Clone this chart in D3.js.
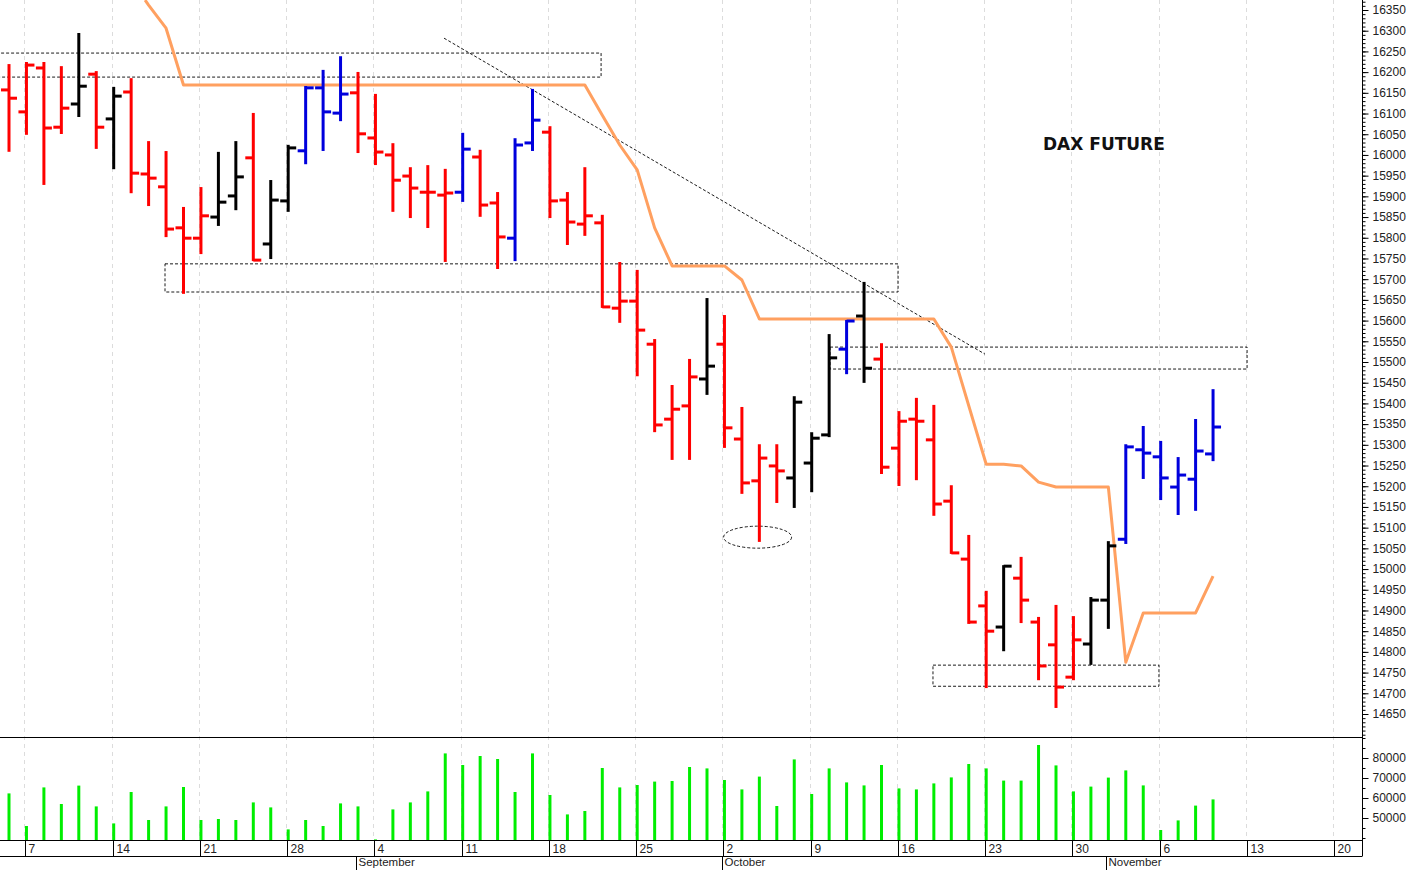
<!DOCTYPE html>
<html><head><meta charset="utf-8">
<script src="https://cdn.jsdelivr.net/npm/d3@7"></script>
<style>body{margin:0;background:#fff}svg{display:block}</style>
</head><body><svg id="c" width="1408" height="870"></svg>
<script>
// ---- data ----
const dates = ["Aug 4","Aug 7","Aug 8","Aug 9","Aug 10","Aug 11","Aug 14","Aug 15","Aug 16","Aug 17","Aug 18","Aug 21","Aug 22","Aug 23","Aug 24","Aug 25","Aug 28","Aug 29","Aug 30","Aug 31","Sep 1","Sep 4","Sep 5","Sep 6","Sep 7","Sep 8","Sep 11","Sep 12","Sep 13","Sep 14","Sep 15","Sep 18","Sep 19","Sep 20","Sep 21","Sep 22","Sep 25","Sep 26","Sep 27","Sep 28","Sep 29","Oct 2","Oct 3","Oct 4","Oct 5","Oct 6","Oct 9","Oct 10","Oct 11","Oct 12","Oct 13","Oct 16","Oct 17","Oct 18","Oct 19","Oct 20","Oct 23","Oct 24","Oct 25","Oct 26","Oct 27","Oct 30","Oct 31","Nov 1","Nov 2","Nov 3","Nov 6","Nov 7","Nov 8","Nov 9"];
const open  = [16157,16104,16210,16067,16123,16195,16087,16152,15954,15923,15824,15799,15850,15901,15993,15785,15889,16010,16162,16101,16150,16041,16000,15949,15910,15903,15910,15995,15884,15799,16029,16055,15891,15833,15836,15630,15647,15543,15362,15394,15459,15543,15314,15213,15249,15220,15256,15324,15531,15611,15507,15292,15362,15312,15164,15024,14911,14860,14978,14872,14817,14739,14819,14925,15072,15288,15271,15198,15217,15278];
const high  = [16217,16222,16222,16212,16292,16200,16162,16183,16031,16007,15872,15920,16005,16031,16099,15937,16022,16164,16203,16236,16198,16145,16026,15968,15973,15964,16051,16010,15908,16038,16157,16067,15908,15968,15853,15739,15720,15553,15442,15505,15652,15611,15389,15299,15299,15415,15328,15565,15599,15691,15543,15379,15411,15394,15200,15080,14945,15007,15027,14882,14911,14884,14930,15065,15299,15343,15307,15268,15360,15432];
const low   = [16010,16051,15930,16053,16094,16017,15968,15910,15879,15804,15667,15763,15831,15869,15746,15751,15865,15980,16012,16084,16007,15978,15865,15850,15826,15744,15889,15853,15727,15746,16012,15850,15785,15807,15633,15597,15468,15333,15266,15266,15423,15295,15184,15068,15162,15150,15188,15321,15473,15452,15232,15203,15217,15131,15039,14870,14715,14804,14872,14734,14667,14734,14771,14858,15063,15220,15169,15133,15143,15263];
const close = [16137,16217,16065,16113,16166,16067,16142,15956,15944,15821,15799,15853,15886,15947,15746,15891,16017,16162,16104,16147,16051,16007,15939,15920,15910,15908,16014,15879,15802,16024,16084,15889,15838,15853,15633,15647,15577,15348,15386,15464,15490,15341,15208,15268,15237,15403,15316,15510,15599,15485,15246,15357,15357,15157,15039,14872,14850,15007,14925,14766,14715,14829,14925,15056,15295,15280,15220,15227,15285,15343];
const barColor = ["r","r","r","r","k","r","k","r","r","r","r","r","k","k","r","k","k","b","b","b","r","r","r","r","r","r","b","r","r","b","b","r","r","r","r","r","r","r","r","r","k","r","r","r","r","k","k","k","b","k","r","r","r","r","r","r","r","k","r","r","r","r","k","k","b","b","b","b","b","b"];
const volume = [62300,46000,65300,57000,66200,55800,47300,63000,49000,55800,65500,49000,49500,49000,57800,55300,44300,49000,46000,57300,55800,39300,54300,57800,63300,82300,76500,81000,79500,63000,82300,61500,51800,53500,75000,65300,66500,68200,68500,75500,74800,69000,64300,70700,56000,79300,62000,74800,67800,66300,76500,64800,64300,67300,70300,77000,74800,68700,68700,86500,76300,63300,65700,70200,73800,66300,44000,48800,56200,59300];
const stopIdx   = [8,9,10,33,34,35,36,37,38,41,42,43,53,54,56,57,58,59,60,63,64,65,68,69];
const stopLevel = [16362,16306,16169,16169,16096,16024,15964,15824,15732,15732,15698,15604,15604,15536,15253,15253,15249,15210,15198,15198,14775,14894,14894,14983];
const weekTickIdx = [1,6,11,16,21,26,31,36,41,46,51,56,61,66,71,76];
const weekLabels  = ["7","14","21","28","4","11","18","25","2","9","16","23","30","6","13","20"];
const monthIdx    = [20,41,63];
const monthLabels = ["September","October","November"];
const priceTicks = d3.range(14650,16351,50);
const volTicks = [50000,60000,70000,80000];
// annotation zones [idx0, idx1, priceLow, priceHigh]
const zoneIdx0 = [-1.6, 8.94, 47.05, 52.95];
const zoneIdx1 = [33.93, 50.95, 70.95, 65.9];
const zoneLow  = [16188, 15669, 15483, 14717];
const zoneHigh = [16246, 15737, 15536, 14768];
const trendIdx = [24.93, 55.93], trendPrice = [16282, 15519];
const ellipseIdx = 42.9, ellipsePrice = 15077;

// ---- scales ----
const svg = d3.select("#c");
const X1 = 1362;
const x = d3.scaleLinear().domain([0, 1]).range([9, 26.45]);
const y = d3.scaleLinear().domain([14650,16350]).range([714,10]);
const yv = d3.scaleLinear().domain([39000,90000]).range([840,738]);
const col = {r:"#ff0000",k:"#000000",b:"#0000dd"};
const font = "'Liberation Sans', Arial, sans-serif";

// grid
weekTickIdx.forEach(i=>{
  const gx = Math.round(x(i))-1.5;
  svg.append("line").attr("x1",gx).attr("x2",gx).attr("y1",0).attr("y2",840)
   .attr("stroke","#dcdcdc").attr("stroke-dasharray","4,4");
});

svg.append("defs").append("clipPath").attr("id","pc").append("rect").attr("x",0).attr("y",0).attr("width",X1).attr("height",737);

// zones
const ann = svg.append("g").attr("clip-path","url(#pc)");
zoneIdx0.forEach((a,k)=>{
  ann.append("rect").attr("x",x(a)).attr("y",y(zoneHigh[k]))
    .attr("width",x(zoneIdx1[k])-x(a)).attr("height",y(zoneLow[k])-y(zoneHigh[k]))
    .attr("fill","none").attr("stroke","#000").attr("stroke-width",0.9).attr("stroke-dasharray","3,2");
});
ann.append("line").attr("x1",x(trendIdx[0])).attr("y1",y(trendPrice[0])).attr("x2",x(trendIdx[1])).attr("y2",y(trendPrice[1]))
  .attr("stroke","#000").attr("stroke-width",0.9).attr("stroke-dasharray","3,2");
ann.append("ellipse").attr("cx",x(ellipseIdx)).attr("cy",y(ellipsePrice)).attr("rx",34).attr("ry",11)
  .attr("fill","none").attr("stroke","#000").attr("stroke-width",0.9).attr("stroke-dasharray","3,2");

// stop line
const stopPts = stopIdx.map((i,k)=>[x(i),y(stopLevel[k])]);
ann.append("path").attr("d",d3.line()([[x(7.8),y(16374)],...stopPts])).attr("fill","none")
  .attr("stroke","#ffa060").attr("stroke-width",3).attr("stroke-linejoin","round");

// OHLC bars
const bars = svg.append("g").attr("clip-path","url(#pc)");
dates.forEach((d,i)=>{
  const cx = x(i), c = col[barColor[i]];
  const bg = bars.append("g").attr("stroke",c).attr("stroke-width",3);
  bg.append("line").attr("x1",cx).attr("x2",cx).attr("y1",y(high[i])-1).attr("y2",y(low[i])+1);
  bg.append("line").attr("x1",cx-8).attr("x2",cx).attr("y1",y(open[i])).attr("y2",y(open[i]));
  bg.append("line").attr("x1",cx).attr("x2",cx+8).attr("y1",y(close[i])).attr("y2",y(close[i]));
});

// volume
dates.forEach((d,i)=>{
  svg.append("line").attr("x1",x(i)).attr("x2",x(i)).attr("y1",yv(volume[i])).attr("y2",840)
    .attr("stroke","#00ee00").attr("stroke-width",3);
});

// title
svg.append("text").attr("x",1043).attr("y",150).text("DAX FUTURE")
  .attr("font-family","'DejaVu Sans', Verdana, sans-serif").attr("font-weight","bold").attr("font-size",17).attr("fill","#111");

// frame lines
svg.append("line").attr("x1",0).attr("x2",X1+0.5).attr("y1",737.5).attr("y2",737.5).attr("stroke","#000");
svg.append("line").attr("x1",0).attr("x2",X1+0.5).attr("y1",840.5).attr("y2",840.5).attr("stroke","#000");
svg.append("line").attr("x1",0).attr("x2",X1+0.5).attr("y1",856.5).attr("y2",856.5).attr("stroke","#000");
svg.append("line").attr("x1",X1+0.5).attr("x2",X1+0.5).attr("y1",0).attr("y2",856).attr("stroke","#000");

// price axis
const pa = svg.append("g").attr("transform",`translate(${X1+0.5},0)`);
pa.call(d3.axisRight(y).tickValues(d3.range(14600,16400,10)).tickSize(3).tickFormat("")).call(s=>s.select(".domain").remove());
pa.append("g").call(d3.axisRight(y).tickValues(priceTicks).tickSize(6).tickPadding(4).tickFormat(d3.format("d")))
  .call(s=>s.select(".domain").remove())
  .call(s=>s.selectAll("text").attr("font-family",font).attr("font-size",12).attr("fill","#222"));
pa.selectAll("line").attr("stroke","#000");
const va = svg.append("g").attr("transform",`translate(${X1+0.5},0)`);
va.call(d3.axisRight(yv).tickValues(d3.range(40000,90001,5000)).tickSize(3).tickFormat("")).call(s=>s.select(".domain").remove());
va.append("g").call(d3.axisRight(yv).tickValues(volTicks).tickSize(6).tickPadding(4).tickFormat(d3.format("d")))
  .call(s=>s.select(".domain").remove())
  .call(s=>s.selectAll("text").attr("font-family",font).attr("font-size",12).attr("fill","#222"));

// date axis
weekTickIdx.forEach((i,k)=>{
  const tx = Math.round(x(i))-0.5;
  svg.append("line").attr("x1",tx).attr("x2",tx).attr("y1",840).attr("y2",856).attr("stroke","#000");
  svg.append("text").attr("x",tx+3).attr("y",853).text(weekLabels[k])
    .attr("font-family",font).attr("font-size",12).attr("fill","#222");
});
monthIdx.forEach((i,k)=>{
  const tx = Math.round(x(i))-1.5;
  svg.append("line").attr("x1",tx).attr("x2",tx).attr("y1",856).attr("y2",870).attr("stroke","#000");
  svg.append("text").attr("x",tx+2).attr("y",866).text(monthLabels[k])
    .attr("font-family",font).attr("font-size",11.5).attr("fill","#222");
});
</script></body></html>
